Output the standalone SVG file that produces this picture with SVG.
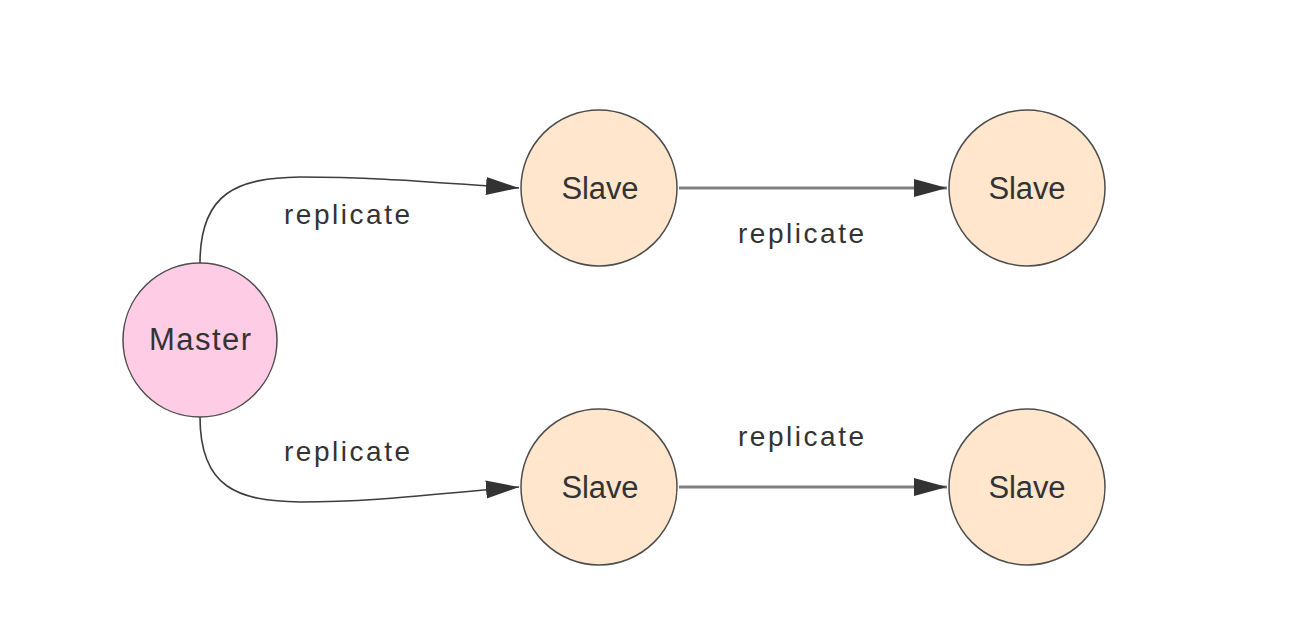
<svg xmlns="http://www.w3.org/2000/svg" width="1290" height="620" viewBox="0 0 1290 620">
<style>
.node{stroke:#4d4d4d;stroke-width:1.5}
.m{fill:#ffcce6}
.s{fill:#ffe6cc}
.t{font-family:"Liberation Sans",Arial,sans-serif;fill:#333;text-anchor:middle}
.n{font-size:31px}
.l{font-size:28px}
.curve{fill:none;stroke:#3d3d3d;stroke-width:1.6}
.line{fill:none;stroke:#808080;stroke-width:3}
</style>
<defs>
<marker id="ah" markerUnits="userSpaceOnUse" markerWidth="34" markerHeight="20" refX="33" refY="10" orient="auto">
<path d="M0,1 L33,10 L0,19 Z" fill="#333"/>
</marker>
</defs>
<rect width="1290" height="620" fill="#fff"/>
<g id="connectors">
<path class="curve" d="M200,263 C200,192 238,178 300,177 C380,177 440,183 519,188" marker-end="url(#ah)"/>
<path class="curve" d="M200,417 C200,488 238,501 300,502 C380,502 440,493 519,487" marker-end="url(#ah)"/>
<path class="line" d="M679,188 L947,188" marker-end="url(#ah)"/>
<path class="line" d="M679,487 L947,487" marker-end="url(#ah)"/>
<text class="t l" x="347" y="224" textLength="126">replicate</text>
<text class="t l" x="801" y="243" textLength="126">replicate</text>
<text class="t l" x="347" y="461" textLength="126">replicate</text>
<text class="t l" x="801" y="446" textLength="126">replicate</text>
</g>
<g id="master">
<circle class="node m" cx="200" cy="340" r="77"/>
<text class="t n" x="200" y="350" textLength="102">Master</text>
</g>
<g id="slave1">
<circle class="node s" cx="599" cy="188" r="78"/>
<text class="t n" x="600" y="199" textLength="77">Slave</text>
</g>
<g id="slave2">
<circle class="node s" cx="1027" cy="188" r="78"/>
<text class="t n" x="1027" y="199" textLength="77">Slave</text>
</g>
<g id="slave3">
<circle class="node s" cx="599" cy="487" r="78"/>
<text class="t n" x="600" y="498" textLength="77">Slave</text>
</g>
<g id="slave4">
<circle class="node s" cx="1027" cy="487" r="78"/>
<text class="t n" x="1027" y="498" textLength="77">Slave</text>
</g>
</svg>
